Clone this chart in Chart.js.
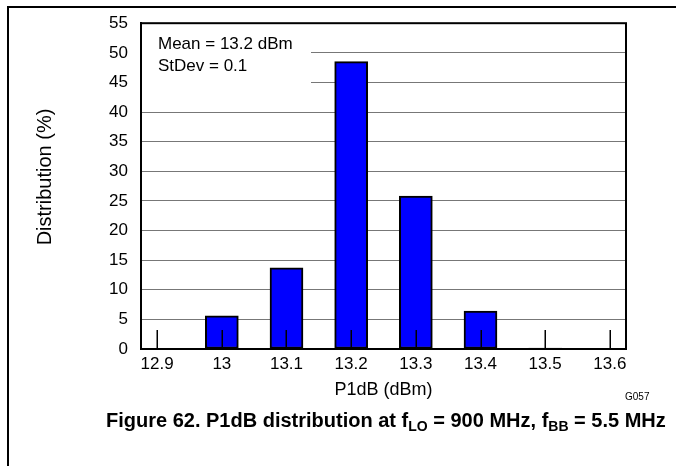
<!DOCTYPE html>
<html>
<head>
<meta charset="utf-8">
<script src="https://cdn.jsdelivr.net/npm/chart.js@4.4.1/dist/chart.umd.min.js"></script>
<style>
  body { margin: 0; background: #fff; }
  #wrap { position: relative; width: 676px; height: 466px; overflow: hidden; font-family: Arial, "Liberation Sans", sans-serif; }
  #frame { position: absolute; left: 7px; top: 6px; right: -4px; bottom: -4px; border-top: 2px solid #000; border-left: 2px solid #000; }
  canvas { position: absolute; left: 0; top: 0; }
  #code { position: absolute; left: 625px; top: 391px; font-size: 10px; line-height: 12px; color: #000; }
  #caption { position: absolute; left: 106px; top: 408px; font-size: 20px; line-height: 24px; font-weight: bold; color: #000; white-space: nowrap; }
  #caption sub { font-size: 14px; vertical-align: -4px; line-height: 0; }
</style>
</head>
<body>
<div id="wrap">
  <div id="frame"></div>
  <canvas id="p1db" width="676" height="466"></canvas>
  <div id="code">G057</div>
  <div id="caption">Figure 62. P1dB distribution at f<sub>LO</sub> = 900 MHz, f<sub>BB</sub> = 5.5 MHz</div>
</div>
<script>
// P1dB bins (dBm) and share of parts in each bin (%)
const binCenters = [12.9, 13.0, 13.1, 13.2, 13.3, 13.4, 13.5, 13.6];
const binLabels = ["12.9", "13", "13.1", "13.2", "13.3", "13.4", "13.5", "13.6"];
const distribution = [0, 5.6, 13.7, 48.5, 25.8, 6.4, 0.15, 0];
const statsLines = ["Mean = 13.2 dBm", "StDev = 0.1"];
const yTitle = "Distribution (%)";

const fontFamily = "Arial, 'Liberation Sans', sans-serif";
const tickFont = { family: fontFamily, size: 17 };

const notes = {
  id: "notes",
  beforeDatasetsDraw(chart) {
    const { ctx, chartArea } = chart;
    ctx.save();
    // white patch behind the stats text, hides the gridlines there
    ctx.fillStyle = "#fff";
    ctx.fillRect(chartArea.left + 1, chartArea.top + 1, 310 - chartArea.left, 91 - chartArea.top);
    ctx.fillStyle = "#000";
    ctx.font = "17px " + fontFamily;
    ctx.textBaseline = "middle";
    ctx.fillText(statsLines[0], 158, 44);
    ctx.fillText(statsLines[1], 158, 66);
    // y axis title, sits a bit above the plot centre in the original
    ctx.translate(45, 177);
    ctx.rotate(-Math.PI / 2);
    ctx.font = "20px " + fontFamily;
    ctx.textAlign = "center";
    ctx.fillText(yTitle, 0, 0);
    ctx.restore();
  },
  afterDatasetsDraw(chart) {
    const { ctx, chartArea, scales } = chart;
    ctx.save();
    ctx.strokeStyle = "#000";
    ctx.lineWidth = 1.5;
    ctx.beginPath();
    binCenters.forEach((v) => {
      const x = Math.round(scales.x.getPixelForValue(v)) + 0.25;
      ctx.moveTo(x, chartArea.bottom);
      ctx.lineTo(x, chartArea.bottom - 19);
    });
    ctx.stroke();
    ctx.lineWidth = 2;
    ctx.strokeRect(chartArea.left, chartArea.top, chartArea.right - chartArea.left, chartArea.bottom - chartArea.top);
    ctx.restore();
  },
};

new Chart(document.getElementById("p1db"), {
  type: "bar",
  data: {
    datasets: [
      {
        data: binCenters.map((x, i) => ({ x: x, y: distribution[i] })),
        backgroundColor: "#0000ff",
        borderColor: "#000",
        borderWidth: 2,
        borderSkipped: false,
        barThickness: 33,
      },
    ],
  },
  options: {
    responsive: false,
    animation: false,
    layout: { padding: { left: 0, top: 21, right: 50, bottom: 60 } },
    plugins: { legend: { display: false }, tooltip: { enabled: false } },
    scales: {
      x: {
        type: "linear",
        offset: false,
        min: 12.875,
        max: 13.625,
        afterBuildTicks: (scale) => {
          scale.ticks = binCenters.map((v) => ({ value: v }));
        },
        afterFit: (scale) => {
          scale.height = 57;
        },
        grid: { display: false, drawTicks: false },
        border: { display: true, color: "#000", width: 2 },
        ticks: {
          color: "#000",
          font: tickFont,
          padding: 5,
          maxRotation: 0,
          callback: (v, i) => binLabels[i],
        },
        title: {
          display: true,
          text: "P1dB (dBm)",
          color: "#000",
          font: { family: fontFamily, size: 18 },
          padding: { top: 0, bottom: 5 },
        },
      },
      y: {
        min: 0,
        max: 55,
        afterFit: (scale) => {
          scale.width = 141;
        },
        grid: { color: "#777", lineWidth: 1, drawTicks: false },
        border: { display: true, color: "#000", width: 2 },
        ticks: { stepSize: 5, color: "#000", font: tickFont, padding: 13 },
      },
    },
  },
  plugins: [notes],
});
</script>
</body>
</html>
